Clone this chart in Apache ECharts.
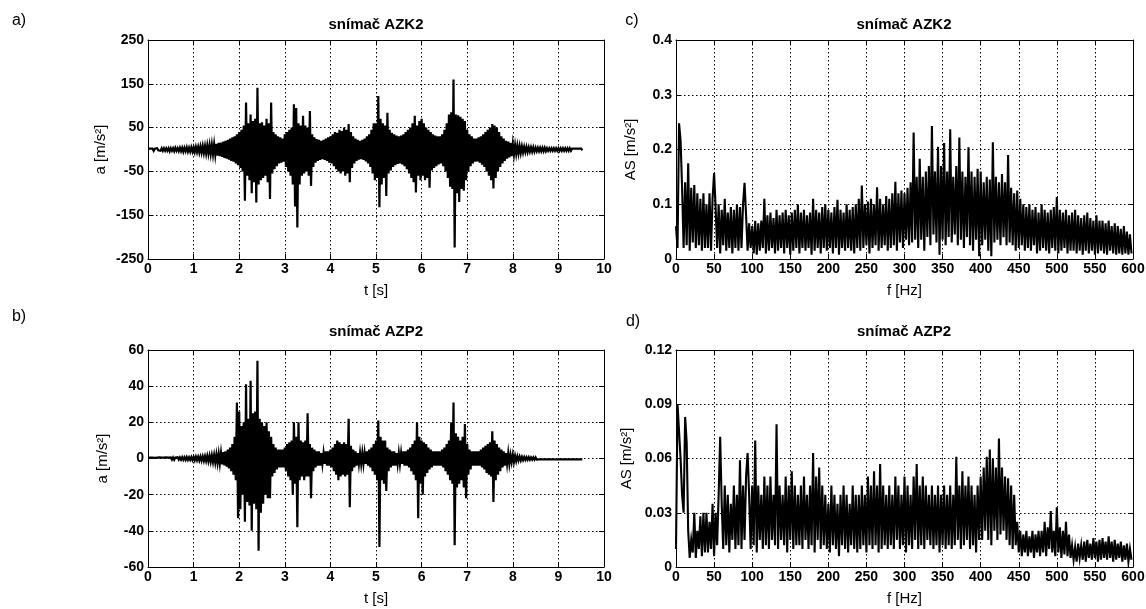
<!DOCTYPE html>
<html><head><meta charset="utf-8">
<script src="https://cdn.jsdelivr.net/npm/echarts@6/dist/echarts.min.js"></script>
<style>html,body{margin:0;padding:0;background:#fff}#c{width:1146px;height:609px}</style>
</head><body><div id="c"></div>
<script>
// ---- data ----
const T_STEP = 0.05;   // s, upper peaks at i*T_STEP, lower peaks half a step later
const F_STEP = 4;      // Hz, highs at i*F_STEP, lows half a step later

const azk2Up = [
2,2,2,2,3,2,3,3,3,3,3,3,4,3,4,4,4,5,4,5,
5,6,6,7,8,8,9,10,11,12,
13,15,16,18,20,22,25,28,30,35,
40,45,55,107,60,80,65,70,141,60,
62,55,70,60,107,40,35,30,28,25,
35,40,45,50,103,95,60,55,77,55,
50,88,35,28,24,22,20,22,25,28,
30,35,40,38,45,42,50,45,58,40,
30,25,22,20,22,25,30,35,45,60,
60,122,70,60,55,84,45,38,35,32,
30,32,35,40,45,50,60,77,55,65,
70,60,50,45,40,35,32,30,30,35,
45,60,80,85,160,80,78,75,70,65,
45,35,30,25,25,28,30,35,40,45,
50,58,55,50,40,30,25,20,18,15,
12,10,9,8,7,6,6,5,5,5,
4,4,4,4,4,3,3,3,3,3,
3,3,3,3,3,3,2,2,2,2,2];
const azk2Low = [
-2,-2,-3,-2,-2,-3,-3,-3,-3,-4,-3,-4,-3,-4,-4,-5,-4,-5,-5,-5,
-6,-6,-7,-7,-8,-9,-9,-10,-11,-12,
-14,-15,-17,-19,-21,-23,-26,-28,-32,-36,
-42,-50,-117,-60,-70,-100,-75,-121,-80,-70,
-65,-60,-75,-113,-55,-45,-38,-32,-30,-28,
-40,-50,-60,-80,-130,-178,-80,-60,-55,-50,
-60,-83,-40,-30,-26,-24,-22,-24,-26,-30,
-32,-38,-45,-50,-55,-50,-60,-55,-75,-42,
-32,-26,-23,-22,-24,-27,-32,-40,-55,-70,
-65,-132,-80,-65,-106,-55,-48,-40,-36,-33,
-32,-34,-38,-45,-55,-65,-75,-98,-60,-70,
-60,-70,-65,-87,-48,-42,-38,-34,-32,-38,
-50,-65,-85,-90,-224,-100,-120,-90,-94,-70,
-50,-38,-32,-28,-27,-30,-35,-40,-50,-60,
-70,-89,-65,-50,-40,-32,-26,-21,-18,-15,
-12,-10,-9,-8,-7,-6,-6,-5,-5,-5,
-4,-4,-4,-4,-4,-3,-3,-3,-3,-3,
-3,-3,-3,-3,-3,-3,-2,-2,-2,-2,-2];

const azp2Up = [
0.4,0.5,0.5,0.4,0.5,0.6,0.5,0.5,0.6,0.5,0.6,0.6,0.5,0.7,0.6,0.7,0.7,0.8,0.7,0.8,
0.9,1,1,1.1,1.2,1.3,1.5,1.6,1.8,2,
2.3,2.6,3,3.5,4,5,6,8,12,31,
26,18,20,41,22,43,25,26,54,22,
20,18,20,15,12,8,6,5,5,5,
6,8,9,10,20,12,20,10,9,10,
25,8,6,5,4,4,3,3,4,4,
5,6,8,10,9,8,9,8,22,7,
5,4,3,3,3,3,4,5,6,8,
10,21,12,10,10,6,5,4,4,3,
3,3,4,4,5,6,8,10,20,12,
10,9,8,6,5,4,4,4,4,5,
6,8,10,20,31,14,12,10,12,19,
8,5,4,4,4,4,5,6,7,8,
9,15,10,8,6,5,4,3,3,2,
2,1.5,1.2,1,0.9,0.8,0.7,0.7,0.6,0.6,
0.6,0.5,0.5,0.5,0.5,0.5,0.5,0.5,0.5,0.5,
0.5,0.5,0.5,0.5,0.5,0.5,0.5,0.5,0.5,0.5,0.5];
const azp2Low = [
-0.5,-0.4,-0.5,-0.6,-0.5,-0.5,-0.6,-0.5,-0.5,-0.6,-0.6,-0.7,-0.6,-0.6,-0.7,-0.7,-0.8,-0.8,-0.8,-0.9,
-1,-1,-1.1,-1.2,-1.3,-1.4,-1.6,-1.8,-2,-2.2,
-2.5,-2.8,-3.2,-3.8,-4.5,-5.5,-7,-9,-12,-33,
-28,-20,-35,-24,-26,-40,-25,-28,-51,-30,
-25,-20,-22,-22,-10,-8,-6,-5,-5,-5,
-7,-10,-12,-20,-14,-38,-12,-10,-12,-10,
-10,-22,-7,-5,-4,-4,-3,-3,-4,-4,
-5,-7,-9,-12,-10,-9,-10,-9,-27,-7,
-5,-4,-3,-3,-3,-3,-4,-5,-7,-9,
-12,-49,-12,-14,-18,-7,-5,-4,-4,-3,
-3,-3,-4,-4,-5,-7,-9,-12,-33,-14,
-20,-10,-8,-6,-5,-4,-4,-4,-4,-5,
-7,-9,-12,-14,-48,-16,-14,-12,-16,-22,
-9,-6,-4,-4,-4,-4,-5,-6,-8,-9,
-10,-24,-12,-9,-7,-5,-4,-3,-3,-2,
-2,-1.5,-1.2,-1,-0.9,-0.8,-0.7,-0.7,-0.6,-0.6,
-0.6,-0.5,-0.5,-0.5,-0.5,-0.5,-0.5,-0.5,-0.5,-0.5,
-0.5,-0.5,-0.5,-0.5,-0.5,-0.5,-0.5,-0.5,-0.5,-0.5,-0.5];

const azk2SpecHi = [
0.06,0.248,0.13,0.14,0.175,0.13,0.135,0.12,0.11,0.12,
0.10,0.12,0.11,0.095,0.10,0.09,0.11,0.085,0.095,0.09,
0.10,0.095,0.10,0.08,0.065,0.06,0.07,0.065,0.07,0.11,
0.08,0.085,0.075,0.09,0.08,0.085,0.09,0.08,0.085,0.09,
0.10,0.085,0.09,0.08,0.085,0.11,0.09,0.085,0.095,0.10,
0.09,0.085,0.095,0.108,0.09,0.085,0.10,0.09,0.095,0.10,
0.11,0.134,0.10,0.105,0.11,0.10,0.131,0.11,0.10,0.115,
0.11,0.12,0.141,0.12,0.125,0.12,0.13,0.14,0.231,0.15,
0.183,0.15,0.16,0.17,0.243,0.16,0.205,0.17,0.212,0.16,
0.237,0.15,0.17,0.222,0.16,0.15,0.204,0.16,0.15,0.165,
0.16,0.14,0.15,0.145,0.213,0.15,0.14,0.155,0.14,0.19,
0.13,0.12,0.125,0.11,0.10,0.095,0.10,0.09,0.095,0.085,
0.10,0.09,0.085,0.09,0.095,0.113,0.09,0.085,0.09,0.08,
0.085,0.09,0.08,0.075,0.08,0.085,0.075,0.07,0.08,0.07,
0.07,0.065,0.07,0.06,0.065,0.06,0.055,0.06,0.05,0.045];
const azk2SpecLo = [
0.02,0.217,0.02,0.025,0.015,0.03,0.02,0.025,0.015,0.02,
0.02,0.015,0.157,0.02,0.01,0.025,0.015,0.02,0.01,0.02,
0.015,0.02,0.139,0.015,0.02,0.01,0.008,0.015,0.02,0.01,
0.015,0.02,0.01,0.015,0.02,0.01,0.02,0.008,0.015,0.02,
0.01,0.02,0.015,0.02,0.008,0.015,0.02,0.01,0.02,0.015,
0.02,0.01,0.02,0.008,0.02,0.015,0.02,0.015,0.01,0.02,
0.015,0.02,0.025,0.01,0.02,0.025,0.015,0.02,0.025,0.015,
0.02,0.025,0.015,0.03,0.02,0.035,0.025,0.03,0.035,0.02,
0.035,0.015,0.04,0.025,0.045,0.03,0.008,0.035,0.025,0.04,
0.03,0.045,0.025,0.035,0.02,0.04,0.025,0.015,0.035,0.005,
0.025,0.035,0.015,0.005,0.03,0.035,0.025,0.04,0.025,0.03,
0.025,0.015,0.02,0.025,0.015,0.02,0.015,0.025,0.01,0.015,
0.02,0.015,0.01,0.02,0.015,0.01,0.015,0.02,0.01,0.015,
0.015,0.01,0.015,0.008,0.015,0.01,0.015,0.008,0.01,0.015,
0.01,0.008,0.015,0.01,0.008,0.01,0.008,0.01,0.008,0.01];

const azp2SpecHi = [
0.01,0.09,0.04,0.083,0.02,0.015,0.03,0.02,0.028,0.03,
0.03,0.025,0.035,0.03,0.04,0.035,0.045,0.04,0.035,0.045,
0.04,0.059,0.045,0.05,0.04,0.045,0.07,0.045,0.04,0.05,
0.045,0.05,0.04,0.079,0.045,0.04,0.05,0.045,0.053,0.045,
0.04,0.045,0.05,0.04,0.045,0.063,0.05,0.055,0.045,0.04,
0.035,0.045,0.04,0.035,0.04,0.045,0.04,0.035,0.045,0.04,
0.04,0.045,0.04,0.05,0.045,0.053,0.045,0.057,0.045,0.04,
0.045,0.04,0.05,0.045,0.04,0.05,0.045,0.04,0.05,0.057,
0.045,0.05,0.045,0.04,0.045,0.04,0.045,0.04,0.045,0.04,
0.045,0.04,0.061,0.045,0.053,0.045,0.05,0.045,0.04,0.045,
0.05,0.055,0.061,0.065,0.06,0.055,0.071,0.055,0.05,0.049,
0.045,0.04,0.025,0.02,0.018,0.02,0.017,0.02,0.018,0.02,
0.02,0.025,0.022,0.031,0.02,0.033,0.022,0.02,0.025,0.018,
0.012,0.011,0.013,0.012,0.014,0.015,0.013,0.016,0.014,0.015,
0.016,0.014,0.017,0.014,0.015,0.013,0.014,0.012,0.013,0.01];
const azp2SpecLo = [
0.09,0.06,0.03,0.069,0.005,0.008,0.005,0.01,0.006,0.008,
0.008,0.01,0.006,0.012,0.072,0.01,0.012,0.008,0.015,0.01,
0.012,0.01,0.015,0.063,0.01,0.012,0.008,0.015,0.01,0.012,
0.01,0.015,0.012,0.01,0.015,0.012,0.008,0.015,0.01,0.012,
0.012,0.01,0.015,0.01,0.012,0.008,0.015,0.01,0.012,0.01,
0.008,0.012,0.01,0.006,0.012,0.01,0.008,0.012,0.01,0.008,
0.01,0.012,0.008,0.012,0.01,0.012,0.008,0.01,0.012,0.01,
0.012,0.01,0.015,0.01,0.012,0.008,0.012,0.01,0.015,0.01,
0.012,0.01,0.015,0.012,0.01,0.012,0.008,0.012,0.01,0.012,
0.01,0.012,0.015,0.01,0.012,0.015,0.01,0.012,0.008,0.015,
0.015,0.02,0.015,0.012,0.02,0.015,0.018,0.02,0.015,0.012,
0.01,0.012,0.008,0.006,0.008,0.006,0.008,0.005,0.008,0.006,
0.008,0.006,0.01,0.008,0.006,0.008,0.005,0.007,0.006,0.005,
0.004,0.003,0.005,0.004,0.003,0.005,0.004,0.005,0.003,0.004,
0.005,0.004,0.005,0.003,0.004,0.005,0.003,0.004,0.003,0.004];

const timeTicks = [0,1,2,3,4,5,6,7,8,9,10];
const freqTicks = [0,50,100,150,200,250,300,350,400,450,500,550,600];
const azk2Ticks = [-250,-150,-50,50,150,250];
const azp2Ticks = [-60,-40,-20,0,20,40,60];
const azk2SpecTicks = [0,0.1,0.2,0.3,0.4];
const azp2SpecTicks = [0,0.03,0.06,0.09,0.12];

const titles = ['snímač AZK2','snímač AZP2','snímač AZK2','snímač AZP2'];
const panelLetters = ['a)','b)','c)','d)'];

// ---- build ----
function pairs(hi, lo, step) {
  const out = [];
  for (let i = 0; i < hi.length; i++) {
    out.push([+(i * step).toFixed(4), hi[i]]);
    if (i < lo.length) out.push([+(i * step + step / 2).toFixed(4), lo[i]]);
  }
  return out;
}
const FONT = '"Liberation Sans", Arial, sans-serif';
const axisLineStyle = { show: true, onZero: false, lineStyle: { color: '#000', width: 1 } };
const gridLine = { show: true, lineStyle: { color: '#000', width: 1, type: [1.5, 2.5] } };
const labelStyle = { color: '#000', fontWeight: 'bold', fontSize: 14, fontFamily: FONT };

function xPair(gi, ticks, name) {
  const base = { type: 'value', gridIndex: gi, min: ticks[0], max: ticks[ticks.length - 1] };
  return [
    Object.assign({}, base, {
      position: 'bottom', name: name, nameLocation: 'middle', nameGap: 24,
      nameTextStyle: { color: '#000', fontSize: 15, fontFamily: FONT },
      axisLine: axisLineStyle,
      axisTick: { show: true, inside: true, length: 5, customValues: ticks, lineStyle: { color: '#000' } },
      axisLabel: Object.assign({ margin: 3, customValues: ticks, showMinLabel: true, showMaxLabel: true, hideOverlap: false }, labelStyle),
      splitLine: gridLine
    }),
    Object.assign({}, base, {
      position: 'top', axisLine: axisLineStyle,
      axisTick: { show: true, inside: true, length: 5, customValues: ticks, lineStyle: { color: '#000' } },
      axisLabel: { show: false }, splitLine: { show: false }
    })
  ];
}
function yPair(gi, ticks, name, gap) {
  const base = { type: 'value', gridIndex: gi, min: ticks[0], max: ticks[ticks.length - 1] };
  return [
    Object.assign({}, base, {
      position: 'left', name: name, nameLocation: 'middle', nameGap: gap,
      nameTextStyle: { color: '#000', fontSize: 15, fontFamily: FONT },
      axisLine: axisLineStyle,
      axisTick: { show: true, inside: true, length: 5, customValues: ticks, lineStyle: { color: '#000' } },
      axisLabel: Object.assign({ margin: 4, customValues: ticks, showMinLabel: true, showMaxLabel: true, hideOverlap: false }, labelStyle),
      splitLine: gridLine
    }),
    Object.assign({}, base, {
      position: 'right', axisLine: axisLineStyle,
      axisTick: { show: true, inside: true, length: 5, customValues: ticks, lineStyle: { color: '#000' } },
      axisLabel: { show: false }, splitLine: { show: false }
    })
  ];
}

const grids = [
  { left: 148, top: 40, width: 456, height: 219 },
  { left: 148, top: 350, width: 456, height: 217 },
  { left: 676, top: 40, width: 457, height: 219 },
  { left: 676, top: 350, width: 457, height: 217 }
];
grids.forEach(g => { g.outerBoundsMode = 'none'; g.containLabel = false; });

const xAxes = [].concat(
  xPair(0, timeTicks, 't [s]'), xPair(1, timeTicks, 't [s]'),
  xPair(2, freqTicks, 'f [Hz]'), xPair(3, freqTicks, 'f [Hz]'));
const yAxes = [].concat(
  yPair(0, azk2Ticks, 'a [m/s²]', 40), yPair(1, azp2Ticks, 'a [m/s²]', 38),
  yPair(2, azk2SpecTicks, 'AS [m/s²]', 38), yPair(3, azp2SpecTicks, 'AS [m/s²]', 42));

function lineSeries(gi, data, w) {
  return {
    type: 'line', xAxisIndex: gi * 2, yAxisIndex: gi * 2, data: data,
    showSymbol: false, symbol: 'none', sampling: null, silent: true,
    lineStyle: { color: '#000', width: w, join: 'miter' }, z: 3, clip: true
  };
}

const centers = [[376, 25], [376, 332], [904, 25], [904, 332]];
const letterPos = [[19, 21], [19, 317], [632, 21], [633, 322]];
const graphics = [];
titles.forEach((t, i) => graphics.push({
  type: 'text', x: centers[i][0], y: centers[i][1], silent: true,
  style: { text: t, font: 'bold 15px ' + FONT, fill: '#000', align: 'center', verticalAlign: 'middle', textAlign: 'center', textVerticalAlign: 'middle' }
}));
panelLetters.forEach((t, i) => graphics.push({
  type: 'text', x: letterPos[i][0], y: letterPos[i][1], silent: true,
  style: { text: t, font: '16px ' + FONT, fill: '#000', align: 'center', verticalAlign: 'middle', textAlign: 'center', textVerticalAlign: 'middle' }
}));

const chart = echarts.init(document.getElementById('c'), null, { renderer: 'canvas' });
chart.setOption({
  animation: false,
  backgroundColor: '#fff',
  grid: grids,
  xAxis: xAxes,
  yAxis: yAxes,
  graphic: graphics,
  series: [
    lineSeries(0, pairs(azk2Up, azk2Low, T_STEP), 2.2),
    lineSeries(1, pairs(azp2Up, azp2Low, T_STEP), 2.2),
    lineSeries(2, pairs(azk2SpecHi, azk2SpecLo, F_STEP), 2.1),
    lineSeries(3, pairs(azp2SpecHi, azp2SpecLo, F_STEP), 2.1)
  ]
});
</script>
</body></html>
